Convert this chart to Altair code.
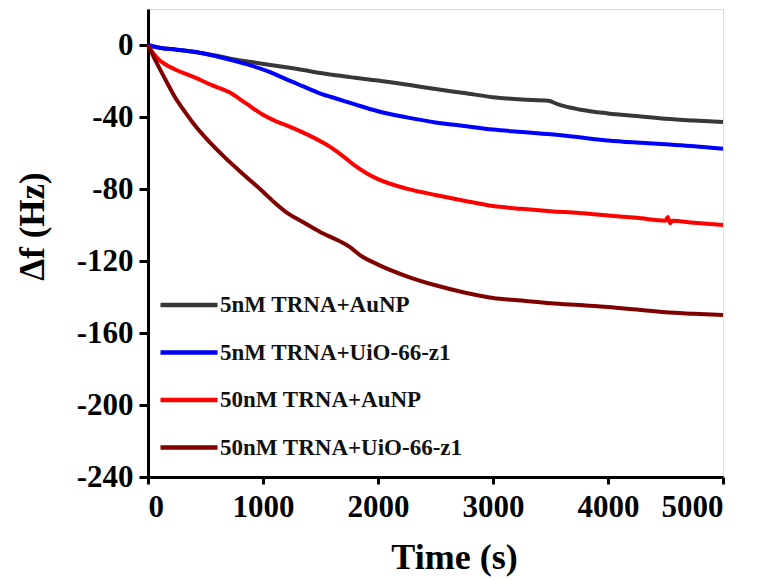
import altair as alt
import pandas as pd

series_names = ["5nM TRNA+AuNP", "5nM TRNA+UiO-66-z1", "50nM TRNA+AuNP", "50nM TRNA+UiO-66-z1"]
series_colors = ["#383838", "#0000ff", "#ff0000", "#800000"]

t_black = [0, 100, 250, 450, 600, 750, 900, 1050, 1200, 1350, 1500, 1650, 1800, 2000, 2250, 2500,
           2750, 3000, 3250, 3480, 3560, 3620, 3750, 4000, 4250, 4500, 4750, 5000]
f_black = [0, -1.5, -2.6, -4.3, -6.0, -8.0, -9.5, -11.0, -12.4, -13.9, -15.6, -17.0, -18.2, -19.7, -22.0, -24.5,
           -26.7, -29.0, -30.3, -31.0, -32.8, -34.0, -35.8, -38.0, -39.5, -41.0, -42.0, -42.8]

t_blue = [0, 100, 250, 450, 600, 750, 900, 1050, 1200, 1350, 1500, 1650, 1800, 2000, 2250, 2500,
          2750, 3000, 3250, 3500, 3750, 4000, 4250, 4500, 4750, 5000]
f_blue = [0, -1.5, -2.6, -4.3, -6.4, -8.8, -11.5, -14.8, -19.0, -23.0, -27.0, -30.0, -33.0, -36.8, -40.2, -43.0,
          -45.0, -47.0, -48.3, -49.6, -51.3, -53.0, -54.2, -55.2, -56.2, -57.6]

t_red = [0, 30, 100, 150, 250, 400, 550, 700, 850, 1000, 1100, 1200, 1350, 1500, 1600, 1700, 1800, 1900,
         2000, 2250, 2500, 2750, 3000, 3250, 3500, 3750, 4000, 4250, 4500, 4520, 4540, 4560, 4750, 5000]
f_red = [0, -3.3, -8.5, -10.7, -14.0, -17.8, -22.2, -26.0, -32.3, -38.8, -42.0, -44.5, -48.7, -53.5, -57.3,
         -62.0, -67.0, -71.2, -74.5, -79.8, -83.3, -86.5, -89.5, -91.0, -92.3, -93.3, -94.7, -96.0, -97.6,
         -95.5, -99.0, -97.7, -98.8, -100.0]

t_dark = [0, 30, 60, 100, 150, 235, 320, 400, 500, 670, 850, 1000, 1100, 1200, 1350, 1500, 1650, 1750, 1850,
          2000, 2250, 2500, 2750, 3000, 3250, 3500, 3750, 4000, 4250, 4500, 4750, 5000]
f_dark = [0, -4.0, -8.0, -13.0, -19.0, -29.0, -37.0, -44.0, -51.5, -62.6, -73.0, -81.5, -87.5, -92.8, -98.5,
          -104.0, -108.5, -112.0, -117.0, -122.0, -128.5, -133.5, -137.5, -140.5, -142.0, -143.5, -144.5,
          -145.5, -147.0, -148.5, -149.3, -150.0]

x_ticks = [0, 1000, 2000, 3000, 4000, 5000]
y_ticks = [0, -40, -80, -120, -160, -200, -240]

rows = []
for name, ts, fs in zip(series_names, [t_black, t_blue, t_red, t_dark], [f_black, f_blue, f_red, f_dark]):
    for i, (t, f) in enumerate(zip(ts, fs)):
        rows.append({"series": name, "t": t, "f": f, "order": i})
df = pd.DataFrame(rows)

FONT = "Liberation Serif"

chart = alt.Chart(df).mark_line(strokeWidth=4, strokeJoin="round", interpolate="monotone").encode(
    x=alt.X("t:Q", scale=alt.Scale(domain=[0, 5000], nice=False),
            axis=alt.Axis(values=x_ticks, title="Time (s)", labelExpr="'' + datum.value",
                          labelFont=FONT, labelFontSize=31, labelFontWeight="bold", labelColor="black",
                          labelBaseline="alphabetic", labelPadding=32, tickSize=7, tickWidth=3,
                          tickColor="black", domainColor="black", domainWidth=3, grid=False,
                          titleFont=FONT, titleFontSize=36, titleFontWeight="bold", titleColor="black",
                          titleX=306, titleY=91, titleBaseline="alphabetic", titleAlign="center")),
    y=alt.Y("f:Q", scale=alt.Scale(domain=[-240, 20], nice=False),
            axis=alt.Axis(values=y_ticks, title="Δf (Hz)", labelExpr="'' + datum.value",
                          labelFont=FONT, labelFontSize=31, labelFontWeight="bold", labelColor="black",
                          labelPadding=6, tickSize=9, tickWidth=3,
                          tickColor="black", domainColor="black", domainWidth=3, grid=False,
                          titleFont=FONT, titleFontSize=35, titleFontWeight="bold", titleColor="black",
                          titleX=-116, titleY=217, titleAngle=270, titleBaseline="middle",
                          titleAlign="center")),
    color=alt.Color("series:N", sort=series_names,
                    scale=alt.Scale(domain=series_names, range=series_colors),
                    legend=alt.Legend(title=None, orient="none", legendX=10, legendY=284,
                                      symbolType="stroke", symbolSize=3249, symbolStrokeWidth=4.5,
                                      labelFont=FONT, labelFontSize=23, labelFontWeight="bold",
                                      labelColor="#111111", labelOffset=0, rowPadding=23.5,
                                      clipHeight=24, padding=0, labelLimit=400)),
    order="order:Q",
).properties(
    width=575, height=468,
    autosize=alt.AutoSizeParams(type="none"),
    padding={"left": 140, "top": 1, "right": 32, "bottom": 100},
).configure_view(
    stroke="black", strokeWidth=3
).configure(background="white")

chart.save("out.html", embed_options={"renderer": "svg", "actions": False})
